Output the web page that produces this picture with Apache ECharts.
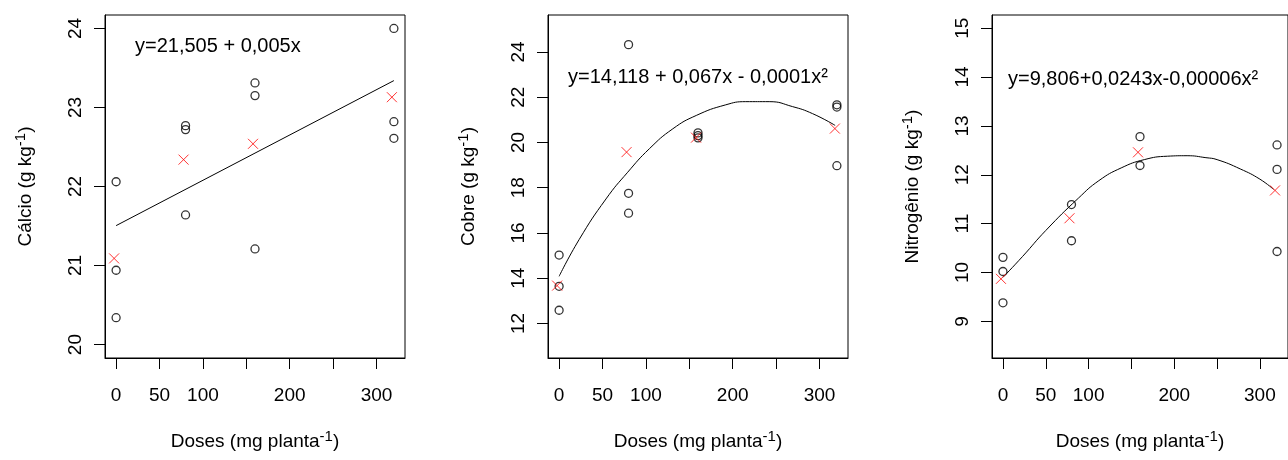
<!DOCTYPE html>
<html>
<head>
<meta charset="utf-8">
<script src="https://cdn.jsdelivr.net/npm/echarts@6/dist/echarts.min.js"></script>
<style>
html, body { margin: 0; padding: 0; background: #fff; }
#chart { width: 1288px; height: 460px; }
</style>
</head>
<body>
<div id="chart"></div>
<script>
// doses on the x axis
const doseTicks = [0, 50, 100, 150, 200, 250, 300];
const doseLabels = [0, 50, 100, 200, 300];

// Cálcio
const caObs = [[0, 22.06], [0, 20.94], [0, 20.34], [80, 22.77], [80, 22.72], [80, 21.64],
    [160, 23.31], [160, 23.15], [160, 21.21], [320, 24.0], [320, 22.82], [320, 22.61]];
const caMeans = [[0, 21.09], [80, 22.34], [160, 22.54], [320, 23.13]];
const caFit = [[0, 21.505], [320, 23.34]];
const caTicks = [20, 21, 22, 23, 24];

// Cobre
const cuObs = [[0, 15.02], [0, 13.64], [0, 12.58], [80, 24.32], [80, 17.75], [80, 16.87],
    [160, 20.42], [160, 20.3], [160, 20.2], [320, 21.66], [320, 21.56], [320, 18.97]];
const cuMeans = [[0, 13.67], [80, 19.57], [160, 20.21], [320, 20.61]];
const cuFit = [[0, 14.08], [23, 15.7], [54, 17.5], [79, 18.68], [104, 19.72], [131, 20.6],
    [158, 21.19], [192, 21.66], [215, 21.8], [242, 21.8], [269, 21.58], [292, 21.27], [318, 20.75]];
const cuTicks = [12, 14, 16, 18, 20, 22, 24];

// Nitrogênio
const nObs = [[0, 10.31], [0, 10.02], [0, 9.38], [80, 11.39], [80, 10.65],
    [160, 12.78], [160, 12.19], [320, 12.61], [320, 12.11], [320, 10.43]];
const nMeans = [[0, 9.87], [80, 11.11], [160, 12.46], [320, 11.68]];
const nFit = [[0, 9.9], [23, 10.33], [50, 10.86], [88, 11.52], [112, 11.88], [138, 12.14],
    [165, 12.31], [192, 12.38], [215, 12.39], [237, 12.35], [250, 12.31], [277, 12.12],
    [300, 11.91], [316, 11.7]];
const nTicks = [9, 10, 11, 12, 13, 14, 15];

const font = 'Liberation Sans';

const panels = [
    { title: 'Cálcio (g kg{sup|-1})', obs: caObs, means: caMeans, fit: caFit, ticks: caTicks,
      min: 19.83, max: 24.17, left: 105, eq: 'y=21,505 + 0,005x', eqX: 135, eqY: 36, smooth: false },
    { title: 'Cobre (g kg{sup|-1})', obs: cuObs, means: cuMeans, fit: cuFit, ticks: cuTicks,
      min: 10.47, max: 25.63, left: 548, eq: 'y=14,118 + 0,067x - 0,0001x²', eqX: 568, eqY: 67, smooth: true },
    { title: 'Nitrogênio (g kg{sup|-1})', obs: nObs, means: nMeans, fit: nFit, ticks: nTicks,
      min: 8.25, max: 15.27, left: 992, eq: 'y=9,806+0,0243x-0,00006x²', eqX: 1008, eqY: 69, smooth: true }
];

const nameStyle = {
    fontFamily: font, fontSize: 19, color: '#000', lineHeight: 26,
    rich: { sup: { fontFamily: font, fontSize: 15, lineHeight: 2, verticalAlign: 'top', color: '#000' } }
};

const grid = [], xAxis = [], yAxis = [], series = [], graphic = [];
panels.forEach((p, i) => {
    grid.push({ left: p.left, top: 15, width: 300, height: 348, show: true,
        borderColor: '#000', borderWidth: 1, backgroundColor: 'transparent' });
    xAxis.push({
        type: 'value', gridIndex: i, min: -12.8, max: 332.8,
        name: 'Doses (mg planta{sup|-1})', nameLocation: 'middle', nameGap: 71,
        nameTextStyle: nameStyle,
        axisLine: { show: true, onZero: false, lineStyle: { color: '#000', width: 1 } },
        splitLine: { show: false },
        axisTick: { show: true, length: 11, customValues: doseTicks, lineStyle: { color: '#000' } },
        axisLabel: { customValues: doseLabels, margin: 28, fontFamily: font, fontSize: 19, color: '#000' }
    });
    yAxis.push({
        type: 'value', gridIndex: i, min: p.min, max: p.max,
        name: p.title, nameLocation: 'middle', nameRotate: 90, nameGap: 66,
        nameTextStyle: nameStyle,
        axisLine: { show: true, onZero: false, lineStyle: { color: '#000', width: 1 } },
        splitLine: { show: false },
        axisTick: { show: true, length: 11, customValues: p.ticks, lineStyle: { color: '#000' } },
        axisLabel: { customValues: p.ticks, rotate: 90, margin: 20, fontFamily: font, fontSize: 19, color: '#000' }
    });
    series.push({
        type: 'line', xAxisIndex: i, yAxisIndex: i, data: p.fit, smooth: p.smooth,
        showSymbol: false, lineStyle: { color: '#000', width: 1 }, z: 1
    });
    series.push({
        type: 'scatter', xAxisIndex: i, yAxisIndex: i, data: p.obs, symbol: 'circle', symbolSize: 8,
        itemStyle: { color: 'transparent', borderColor: '#000', borderWidth: 1.3 }, z: 2
    });
    series.push({
        type: 'scatter', xAxisIndex: i, yAxisIndex: i, data: p.means,
        symbol: 'path://M0,0L10,10M10,0L0,10', symbolSize: 10, symbolOffset: [-2, 0],
        itemStyle: { color: 'none', borderColor: '#ff0000', borderWidth: 1 }, z: 3
    });
    graphic.push({ type: 'text', left: p.eqX, top: p.eqY,
        style: { text: p.eq, font: '20px "Liberation Sans"', fill: '#000' } });
});

const myChart = echarts.init(document.getElementById('chart'));
myChart.setOption({
    animation: false,
    grid: grid,
    xAxis: xAxis,
    yAxis: yAxis,
    series: series,
    graphic: graphic
});
</script>
</body>
</html>
